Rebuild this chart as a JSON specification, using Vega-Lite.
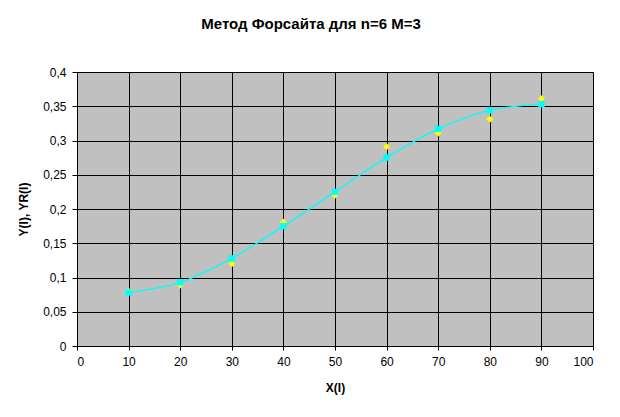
{
  "$schema": "https://vega.github.io/schema/vega-lite/v6.json",
  "autosize": {"type": "none"},
  "width": 516,
  "height": 274,
  "padding": {"left": 77, "top": 72, "right": 27, "bottom": 71},
  "background": "white",
  "config": {
    "font": "Liberation Sans",
    "view": {"fill": "#C0C0C0", "stroke": "#808080", "strokeWidth": 1},
    "axisY": {
      "labelOverlap": false,
      "grid": true,
      "gridColor": "black",
      "gridOpacity": 1,
      "gridWidth": 1,
      "domainColor": "black",
      "tickColor": "black",
      "tickSize": 5,
      "labelFont": "Liberation Sans",
      "labelFontSize": 12,
      "labelColor": "black",
      "labelPadding": 6,
      "titleFont": "Liberation Sans",
      "titleFontSize": 12,
      "titleFontWeight": "bold",
      "titleColor": "black",
      "titlePadding": 12
    }
  },
  "title": {
    "text": "Метод Форсайта для n=6 M=3",
    "font": "Liberation Sans",
    "fontSize": 15,
    "fontWeight": "bold",
    "color": "black",
    "anchor": "middle",
    "dx": -24,
    "offset": 34
  },
  "data": {
    "values": [
      {"x": 10, "y": 0.080, "yr": 0.078},
      {"x": 20, "y": 0.089, "yr": 0.093},
      {"x": 30, "y": 0.120, "yr": 0.128},
      {"x": 40, "y": 0.181, "yr": 0.175},
      {"x": 50, "y": 0.220, "yr": 0.225},
      {"x": 60, "y": 0.291, "yr": 0.275},
      {"x": 70, "y": 0.311, "yr": 0.317},
      {"x": 80, "y": 0.331, "yr": 0.344},
      {"x": 90, "y": 0.361, "yr": 0.353}
    ]
  },
  "encoding": {
    "x": {
      "field": "x",
      "type": "quantitative",
      "scale": {"domain": [0, 100], "nice": false, "zero": false},
      "axis": {
        "title": "X(I)",
        "values": [0, 10, 20, 30, 40, 50, 60, 70, 80, 90, 100],
        "labelOverlap": false,
        "grid": true,
        "gridColor": "black",
        "gridOpacity": 1,
        "gridWidth": 1,
        "domainColor": "black",
        "tickColor": "black",
        "tickSize": 4,
        "labelFont": "Liberation Sans",
        "labelFontSize": 12,
        "labelColor": "black",
        "labelPadding": 6,
        "titleFont": "Liberation Sans",
        "titleFontSize": 12,
        "titleFontWeight": "bold",
        "titleColor": "black",
        "titlePadding": 15
      }
    }
  },
  "layer": [
    {
      "mark": {"type": "point", "shape": "diamond", "filled": true, "color": "#FFFF00", "size": 50, "opacity": 1},
      "encoding": {
        "y": {
          "field": "y",
          "type": "quantitative",
          "scale": {"domain": [0, 0.4], "nice": false},
          "axis": {
            "title": "Y(I), YR(I)",
            "values": [0, 0.05, 0.1, 0.15, 0.2, 0.25, 0.3, 0.35, 0.4],
            "format": ".2~f",
            "labelExpr": "replace(datum.label, '.', ',')"
          }
        }
      }
    },
    {
      "mark": {"type": "line", "color": "#00FFFF", "strokeWidth": 1.3, "interpolate": "catmull-rom"},
      "encoding": {
        "y": {
          "field": "yr",
          "type": "quantitative",
          "scale": {"domain": [0, 0.4], "nice": false},
          "axis": {
            "title": "Y(I), YR(I)",
            "values": [0, 0.05, 0.1, 0.15, 0.2, 0.25, 0.3, 0.35, 0.4],
            "format": ".2~f",
            "labelExpr": "replace(datum.label, '.', ',')"
          }
        }
      }
    },
    {
      "mark": {"type": "square", "filled": true, "color": "#00FFFF", "size": 40, "opacity": 1},
      "encoding": {
        "y": {
          "field": "yr",
          "type": "quantitative",
          "scale": {"domain": [0, 0.4], "nice": false},
          "axis": {
            "title": "Y(I), YR(I)",
            "values": [0, 0.05, 0.1, 0.15, 0.2, 0.25, 0.3, 0.35, 0.4],
            "format": ".2~f",
            "labelExpr": "replace(datum.label, '.', ',')"
          }
        }
      }
    }
  ]
}
